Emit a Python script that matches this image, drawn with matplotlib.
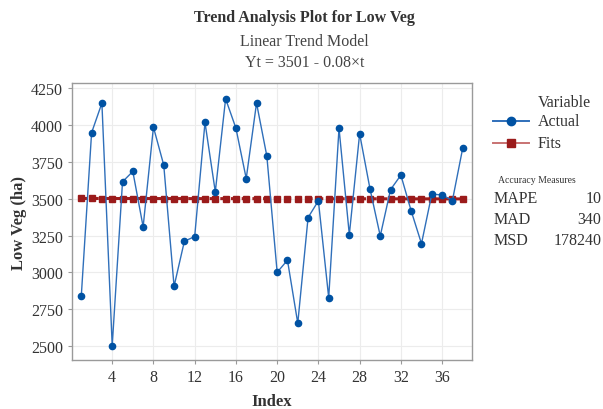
import matplotlib
matplotlib.use("Agg")
import matplotlib.pyplot as plt
from matplotlib.lines import Line2D

plt.rcParams['font.family'] = ['Liberation Serif', 'DejaVu Serif']

index = list(range(1, 39))
actual = [2839, 3946, 4147, 2504, 3614, 3684, 3309, 3984, 3727, 2906,
          3211, 3243, 4016, 3546, 4176, 3977, 3636, 4147, 3788, 3001,
          3083, 2656, 3372, 3485, 2829, 3977, 3256, 3939, 3568, 3247,
          3561, 3659, 3417, 3195, 3530, 3525, 3487, 3842]
fits = [3500.92, 3500.84, 3500.76, 3500.68, 3500.60, 3500.52, 3500.44, 3500.36,
        3500.28, 3500.20, 3500.12, 3500.04, 3499.96, 3499.88, 3499.80, 3499.72,
        3499.64, 3499.56, 3499.48, 3499.40, 3499.32, 3499.24, 3499.16, 3499.08,
        3499.00, 3498.92, 3498.84, 3498.76, 3498.68, 3498.60, 3498.52, 3498.44,
        3498.36, 3498.28, 3498.20, 3498.12, 3498.04, 3497.96]
xticks = [4, 8, 12, 16, 20, 24, 28, 32, 36]
yticks = [2500, 2750, 3000, 3250, 3500, 3750, 4000, 4250]
series_names = ["Actual", "Fits"]
measures = ["MAPE", "MAD", "MSD"]
measure_values = ["10", "340", "178240"]

TXT = '#333333'
fig = plt.figure(figsize=(6.03, 4.10), dpi=100)
ax = fig.add_axes([72/603, 49/410, 400/603, 277/410])

ax.plot(index, fits, color='#a01c1c', lw=2.2, ls=(0, (2.2, 1.3)),
        marker='s', ms=5, mfc='#9b1b1b', mec='#9b1b1b', zorder=2)
ax.plot(index, actual, color='#2f6fba', lw=1.0, marker='o', ms=4.5,
        mfc='#0052a3', mec='#0052a3', zorder=3)

ax.set_xlim(0.1, 38.9)
ax.set_ylim(2407, 4283)
ax.set_xticks(xticks)
ax.set_yticks(yticks)
ax.grid(True, color='#ececec', lw=0.8)
ax.set_axisbelow(True)
for s in ax.spines.values():
    s.set_color('#9a9a9a')
    s.set_linewidth(1.0)
ax.tick_params(colors='#9a9a9a', labelcolor=TXT, labelsize=11.5, length=3)

ax.set_xlabel('Index', fontsize=12, fontweight='bold', color=TXT, labelpad=6)
ax.set_ylabel('Low Veg (ha)', fontsize=12, fontweight='bold', color=TXT, labelpad=3)

fig.text(0.505, 0.955, 'Trend Analysis Plot for Low Veg', ha='center', va='center',
         fontsize=11.5, fontweight='bold', color=TXT)
fig.text(0.505, 0.897, 'Linear Trend Model', ha='center', va='center',
         fontsize=11.5, color='#444444')
fig.text(0.505, 0.847, 'Yt = 3501 - 0.08×t', ha='center', va='center',
         fontsize=11.5, color='#444444')

# legend (drawn manually in figure coordinates)
def fy(py):
    return 1 - py / 410

fig.text(538/603, fy(103), 'Variable', ha='left', va='center', fontsize=11.5, color=TXT)
leg_styles = [
    dict(color='#2f6fba', marker='o', mfc='#0052a3', mec='#0052a3', ms=6),
    dict(color='#c87272', marker='s', mfc='#9b1b1b', mec='#9b1b1b', ms=6),
]
for i, (name, st) in enumerate(zip(series_names, leg_styles)):
    y = fy(122 + i * 22)
    fig.add_artist(Line2D([493/603, 529/603], [y, y], lw=1.4, color=st['color']))
    fig.add_artist(Line2D([511/603], [y], lw=0, marker=st['marker'], ms=st['ms'],
                          mfc=st['mfc'], mec=st['mec']))
    fig.text(538/603, y, name, ha='left', va='center', fontsize=11.5, color=TXT)

fig.text(537/603, fy(181), 'Accuracy Measures', ha='center', va='center',
         fontsize=7, color=TXT)
for i, (m, v) in enumerate(zip(measures, measure_values)):
    y = fy(199 + i * 21)
    fig.text(494/603, y, m, ha='left', va='center', fontsize=11.5, color=TXT)
    fig.text(603/603 - 0.003, y, v, ha='right', va='center', fontsize=11.5, color=TXT)

fig.savefig('out.png', dpi=100, facecolor='white')
